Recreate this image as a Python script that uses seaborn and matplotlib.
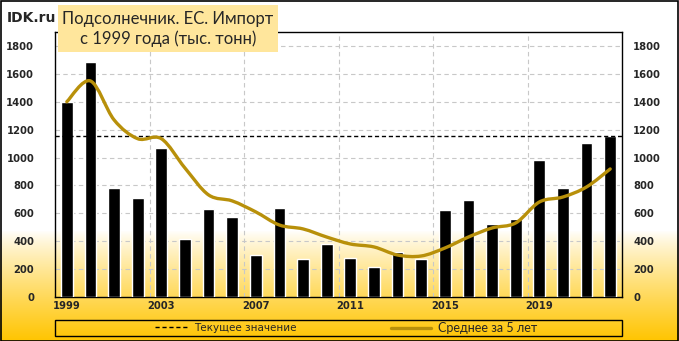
import numpy as np
import pandas as pd
import matplotlib
matplotlib.use("Agg")
import matplotlib.pyplot as plt
import seaborn as sns
from matplotlib.path import Path
from matplotlib.patches import PathPatch, Rectangle
from matplotlib.lines import Line2D
from matplotlib.font_manager import FontProperties

years = list(range(1999, 2023))
imports = [1400, 1686, 782, 710, 1069, 418, 631, 574, 301, 638, 273, 380,
           280, 215, 323, 272, 624, 696, 524, 560, 983, 782, 1105, 1155]
avg5 = [1400, 1549, 1270, 1135, 1135, 925, 732, 689, 610, 516, 488, 430,
        380, 359, 301, 294, 351, 430, 495, 531, 681, 717, 789, 918]
tick_years = [1999, 2003, 2007, 2011, 2015, 2019]
y_ticks = list(range(0, 1801, 200))

title_text = "Подсолнечник. ЕС. Импорт\nс 1999 года (тыс. тонн)"
brand = "IDK.ru"
legend_current = "Текущее значение"
legend_avg = "Среднее за 5 лет"

sns.set_theme(style="white")
plt.rcParams['font.family'] = ['DejaVu Sans']

W, H = 679, 341
fig = plt.figure(figsize=(W / 100, H / 100), dpi=100)

# background gradient
bg = fig.add_axes([0, 0, 1, 1], zorder=-10)
rows = np.arange(H)
t = np.clip((rows - 230) / (H - 230), 0, 1) ** 0.85
top = np.array([1.0, 1.0, 1.0])
bot = np.array([1.0, 0.77, 0.0])
grad = (1 - t)[:, None] * top + t[:, None] * bot
img = np.repeat(grad[:, None, :], 4, axis=1)
bg.imshow(img, aspect='auto', extent=[0, 1, 0, 1], origin='upper')
bg.set_axis_off()

left, right = 55 / W, 622 / W
bottom_, top_ = (H - 297) / H, (H - 32) / H
ax = fig.add_axes([left, bottom_, right - left, top_ - bottom_])
ax.set_facecolor('none')

df = pd.DataFrame({"year": [str(y) for y in years], "value": imports})
sns.barplot(data=df, x="year", y="value", color="black", width=0.5,
            saturation=1, ax=ax, zorder=3)

# smooth line (Bezier through the data points, Excel-like)
n = len(avg5)
xs = np.arange(n, dtype=float)
ys = np.array(avg5, dtype=float)
verts = [(xs[0], ys[0])]
codes = [Path.MOVETO]
for i in range(n - 1):
    p0 = np.array([xs[max(i - 1, 0)], ys[max(i - 1, 0)]])
    p1 = np.array([xs[i], ys[i]])
    p2 = np.array([xs[i + 1], ys[i + 1]])
    p3 = np.array([xs[min(i + 2, n - 1)], ys[min(i + 2, n - 1)]])
    c1 = p1 + (p2 - p0) / 6
    c2 = p2 - (p3 - p1) / 6
    verts += [tuple(c1), tuple(c2), tuple(p2)]
    codes += [Path.CURVE4] * 3
line_color = "#B8900A"
ax.add_patch(PathPatch(Path(verts, codes), facecolor='none',
                       edgecolor=line_color, lw=2.4, zorder=5,
                       capstyle='round'))

ax.axhline(imports[-1], color='black', lw=1.0, ls=(0, (3, 2)), zorder=4)

ax.set_xlim(-0.5, n - 0.5)
ax.set_ylim(0, 1900)
ax.set_yticks(y_ticks)
ax.set_yticklabels([str(v) for v in y_ticks])
ax.set_xticks([years.index(y) for y in tick_years])
ax.set_xticklabels([str(y) for y in tick_years])
ax.set_xticks([years.index(y) - 0.5 for y in tick_years[1:]], minor=True)
ax.set_xlabel("")
ax.set_ylabel("")
ax.grid(True, axis='y', which='major', color='#C8C8C8', ls=(0, (4, 3)), lw=0.8, zorder=0)
ax.grid(True, axis='x', which='minor', color='#C8C8C8', ls=(0, (4, 3)), lw=0.8, zorder=0)
ax.grid(False, axis='x', which='major')
ax.set_axisbelow(True)
for s in ax.spines.values():
    s.set_visible(True)
    s.set_color('black')
    s.set_linewidth(1.0)
tick_font = dict(family='DejaVu Sans', weight='bold', size=7.2)
ax.tick_params(axis='y', length=0, pad=15)
ax.tick_params(axis='x', length=0, pad=3, which='both')
for lab in ax.get_yticklabels() + ax.get_xticklabels():
    lab.set_fontproperties(FontProperties(**tick_font))

ax2 = ax.twinx()
ax2.set_ylim(ax.get_ylim())
ax2.set_yticks(y_ticks)
ax2.set_yticklabels([str(v) for v in y_ticks])
ax2.tick_params(axis='y', length=0, pad=8)
for lab in ax2.get_yticklabels():
    lab.set_fontproperties(FontProperties(**tick_font))
ax2.grid(False)
for s in ax2.spines.values():
    s.set_visible(False)

# legend box with two centred entries
fig.patches.append(Rectangle((55 / W, 1 - 336 / H), (622 - 55) / W, 16 / H,
                             transform=fig.transFigure, facecolor='none',
                             edgecolor='black', lw=1.0, zorder=6))
leg_y = -(328 - 297) / (297 - 32)
leg1 = ax.legend([Line2D([0], [0], color='black', lw=1.0, ls=(0, (3, 2)))],
                 [legend_current], loc='center', bbox_to_anchor=((226 - 55) / 567, leg_y),
                 frameon=False, prop=dict(family='DejaVu Sans', size=7.5),
                 handlelength=3.2, handletextpad=0.5, borderpad=0, borderaxespad=0)
ax.add_artist(leg1)
leg2 = ax.legend([Line2D([0], [0], color=line_color, lw=2.4)],
                 [legend_avg], loc='center', bbox_to_anchor=((464 - 55) / 567, leg_y),
                 frameon=False, prop=dict(family='Lato', size=9),
                 handlelength=3.2, handletextpad=0.5, borderpad=0, borderaxespad=0)

# title box
fig.patches.append(Rectangle((58 / W, 1 - 52 / H), (278 - 58) / W, (52 - 5) / H,
                             transform=fig.transFigure, facecolor='#FFE69C',
                             edgecolor='none', zorder=5))
fig.text(168 / W, 1 - 29 / H, title_text, ha='center', va='center',
         fontsize=12, family='Lato', linespacing=1.25, zorder=6)
fig.text(7 / W, 1 - 18 / H, brand, ha='left', va='center', fontsize=10,
         weight='bold', family='DejaVu Sans', zorder=6)

fig.patches.append(Rectangle((0.5 / W, 0.5 / H), 1 - 1.5 / W, 1 - 1.5 / H,
                             transform=fig.transFigure, facecolor='none',
                             edgecolor='black', lw=1.2, zorder=10))

fig.savefig("out.png", dpi=100)
